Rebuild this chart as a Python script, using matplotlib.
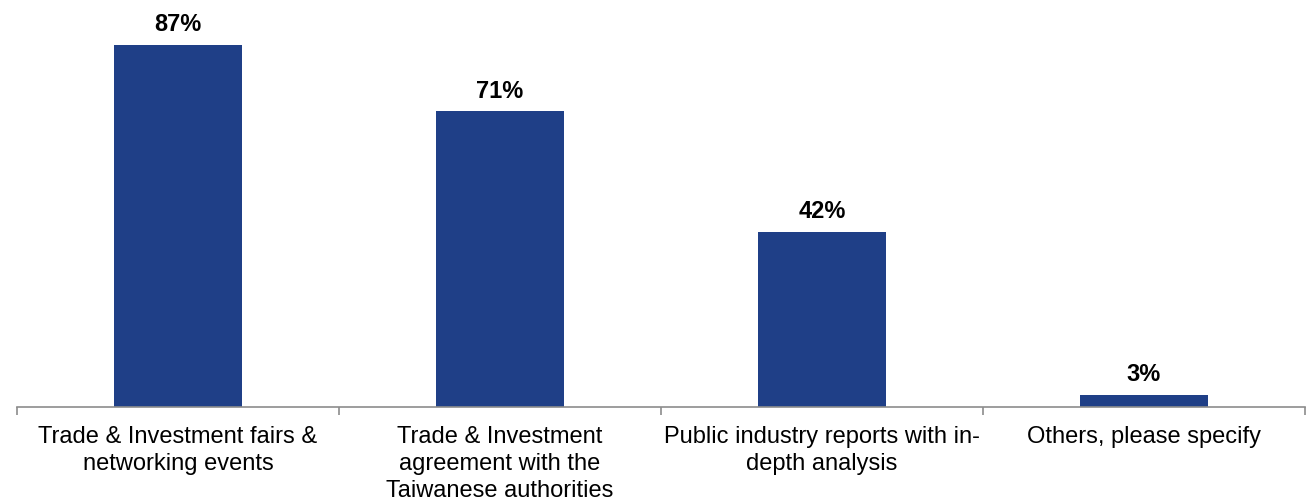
import matplotlib
matplotlib.use("Agg")
import matplotlib.pyplot as plt

categories = [
    "Trade & Investment fairs &\nnetworking events",
    "Trade & Investment\nagreement with the\nTaiwanese authorities",
    "Public industry reports with in-\ndepth analysis",
    "Others, please specify",
]
values = [87, 71, 42, 3]

plt.rcParams['font.family'] = ['Liberation Sans', 'DejaVu Sans']

fig = plt.figure(figsize=(13.11, 5.02), dpi=100)
ax = fig.add_axes([17 / 1311, 94 / 502, 1288 / 1311, 408 / 502])

x = list(range(len(values)))
bars = ax.bar(x, values, width=0.4, color='#1f3f87', zorder=2)

for xi, v in zip(x, values):
    ax.annotate(f"{v}%", (xi, v), xytext=(0, 7), textcoords='offset points',
                ha='center', va='bottom', fontsize=17, fontweight='bold', color='black')

ax.set_xlim(-0.5, len(values) - 0.5)
ax.set_ylim(0, 98)
ax.set_yticks([])

ax.set_xticks(x)
ax.set_xticklabels(categories, fontsize=17, linespacing=1.28)
ax.tick_params(axis='x', which='major', length=0, pad=13)
ax.set_xticks([i - 0.5 for i in range(len(values) + 1)], minor=True)
ax.tick_params(axis='x', which='minor', length=6, width=1.2, color='#8c8c8c', direction='out')

for side in ['top', 'right', 'left']:
    ax.spines[side].set_visible(False)
ax.spines['bottom'].set_color('#8c8c8c')
ax.spines['bottom'].set_linewidth(1.2)

fig.savefig("out.png", dpi=100)
